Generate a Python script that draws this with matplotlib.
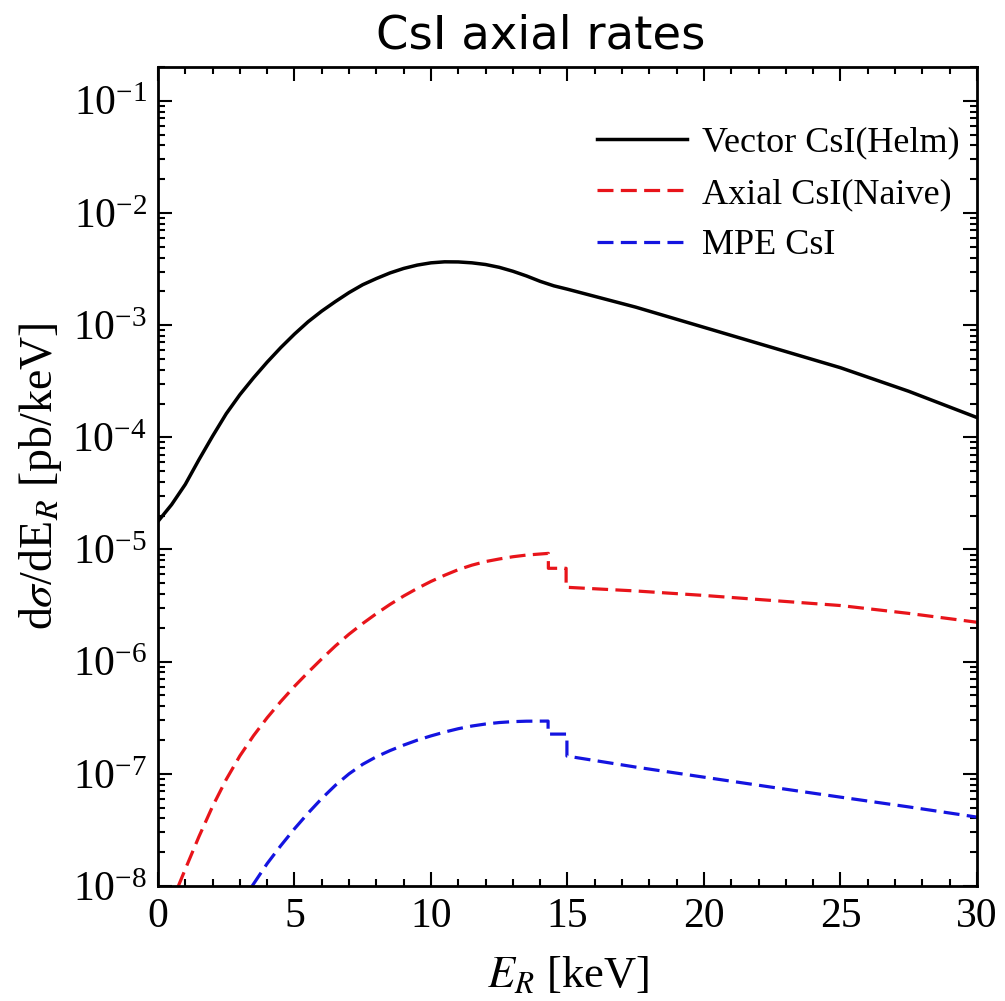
import numpy as np
import matplotlib.pyplot as plt
from matplotlib.ticker import MultipleLocator, FixedLocator, LogLocator, NullFormatter

plt.rcParams['font.family'] = 'serif'
plt.rcParams['font.serif'] = ['Liberation Serif', 'DejaVu Serif']
plt.rcParams['mathtext.fontset'] = 'stix'

# --- Data, values are log10 of the rate ---
# Vector CsI (Helm)
x_vec = [0.0, 0.5, 1.0, 1.5, 2.0, 2.5, 3.0, 3.5, 4.0, 4.5, 5.0, 5.5, 6.0,
         6.5, 7.0, 7.5, 8.0, 8.5, 9.0, 9.5, 10.0, 10.5, 11.0, 11.5, 12.0,
         12.5, 13.0, 13.5, 14.0, 14.5, 15.0, 17.5, 20.0, 22.5, 25.0, 27.5, 30.0]
logy_vec = [-4.75, -4.60, -4.42, -4.20, -3.99, -3.79, -3.62, -3.47, -3.33,
            -3.20, -3.08, -2.97, -2.875, -2.79, -2.71, -2.64, -2.585, -2.535,
            -2.495, -2.465, -2.445, -2.436, -2.437, -2.445, -2.460, -2.485,
            -2.52, -2.562, -2.610, -2.650, -2.68, -2.84, -3.02, -3.20, -3.38,
            -3.59, -3.824]

# Axial CsI (Naive)
x_ax = [0.73, 1.0, 1.5, 2.0, 2.5, 3.0, 3.5, 4.0, 4.5, 5.0, 5.5, 6.0, 6.5,
        7.0, 7.5, 8.0, 8.5, 9.0, 9.5, 10.0, 10.5, 11.0, 11.5, 12.0, 12.5,
        13.0, 13.5, 14.3, 14.3, 14.95, 14.95, 17.5, 20.0, 22.5, 25.0, 27.5, 30.0]
logy_ax = [-8.01, -7.85, -7.56, -7.29, -7.05, -6.84, -6.66, -6.50, -6.355,
           -6.22, -6.095, -5.975, -5.86, -5.755, -5.66, -5.572, -5.49, -5.415,
           -5.347, -5.285, -5.23, -5.18, -5.14, -5.108, -5.085, -5.065, -5.05,
           -5.035, -5.168, -5.168, -5.337, -5.37, -5.41, -5.455, -5.50,
           -5.57, -5.649]

# MPE CsI
x_mpe = [3.45, 4.0, 4.5, 5.0, 5.5, 6.0, 6.5, 7.0, 7.5, 8.0, 8.5, 9.0, 9.5,
         10.0, 10.5, 11.0, 11.5, 12.0, 12.5, 13.0, 13.5, 14.29, 14.29, 14.98,
         14.98, 17.5, 20.0, 22.5, 25.0, 27.5, 30.0]
logy_mpe = [-8.0, -7.80, -7.64, -7.49, -7.35, -7.22, -7.102, -7.0, -6.915,
            -6.848, -6.793, -6.744, -6.70, -6.662, -6.628, -6.598, -6.574,
            -6.556, -6.543, -6.535, -6.531, -6.530, -6.646, -6.646, -6.842,
            -6.94, -7.03, -7.12, -7.208, -7.295, -7.386]

# tick values
y_major = [1e-8, 1e-7, 1e-6, 1e-5, 1e-4, 1e-3, 1e-2, 1e-1]

fig = plt.figure(figsize=(10.05, 10.01), dpi=100)
ax = fig.add_axes([0.1572, 0.1149, 0.8149, 0.8182])

ax.plot(x_vec, 10 ** np.array(logy_vec), color='black', lw=2.5,
        label='Vector CsI(Helm)')
ax.plot(x_ax, 10 ** np.array(logy_ax), color='#e8141a', lw=2.3,
        dashes=(5, 2.3), label='Axial CsI(Naive)')
ax.plot(x_mpe, 10 ** np.array(logy_mpe), color='#1414e0', lw=2.3,
        dashes=(5, 2.3), label='MPE CsI')

ax.set_yscale('log')
ax.set_xlim(0, 30)
ax.set_ylim(1e-8, 0.2)
ax.xaxis.set_major_locator(MultipleLocator(5))
ax.xaxis.set_minor_locator(MultipleLocator(1))
ax.yaxis.set_major_locator(FixedLocator(y_major))
ax.yaxis.set_minor_locator(LogLocator(base=10, subs=np.arange(2, 10), numticks=20))
ax.yaxis.set_minor_formatter(NullFormatter())

ax.tick_params(which='both', direction='in', top=True, right=True, width=1.5)
ax.tick_params(which='major', length=10, labelsize=30, pad=8)
ax.tick_params(which='minor', length=5)
for s in ax.spines.values():
    s.set_linewidth(2.0)

ax.set_xlabel(r'$E_R$ [keV]', fontsize=32, labelpad=14)
ax.set_ylabel(r'd$\sigma$/dE$_R$ [pb/keV]', fontsize=33, labelpad=6)

ax.legend(loc='upper right', bbox_to_anchor=(0.996, 0.945), borderaxespad=0,
          frameon=False, fontsize=26, handlelength=2.5,
          handletextpad=0.4, labelspacing=0.5)

fig.text(0.538, 0.952, 'CsI axial rates', fontsize=33.5, family='DejaVu Sans',
         ha='center', va='baseline')

fig.savefig('out.png', dpi=100)
